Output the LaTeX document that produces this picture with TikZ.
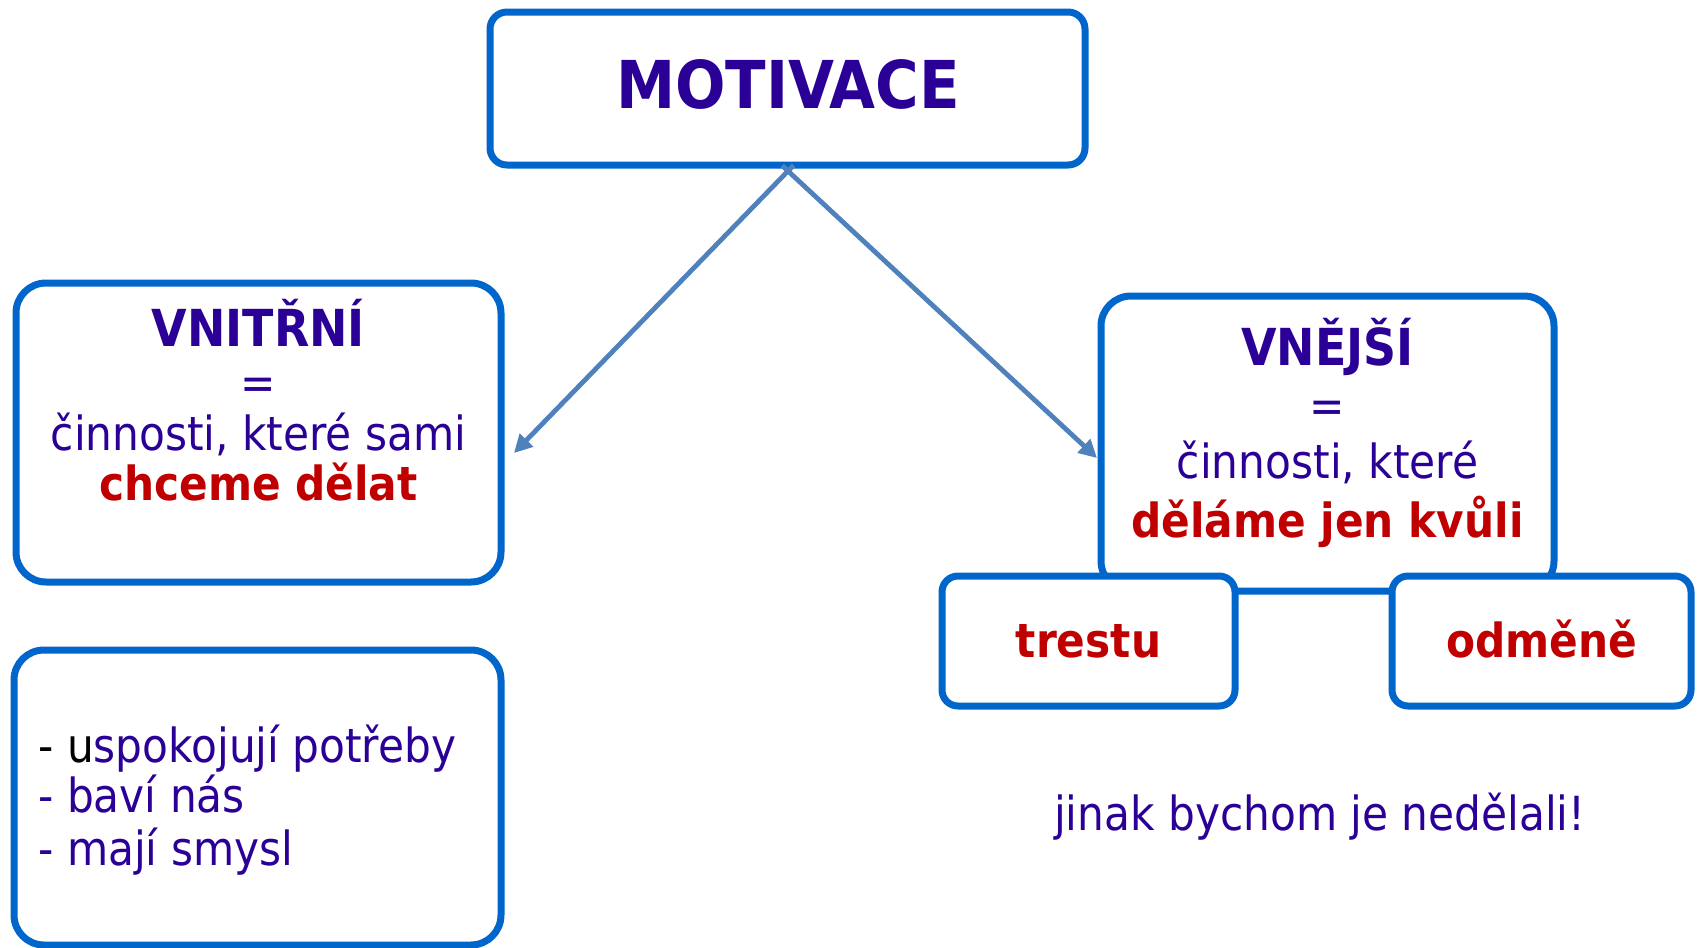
\documentclass[tikz,border=0pt]{standalone}
\usepackage{fontspec}
\setmainfont{DejaVu Sans Condensed}
\usetikzlibrary{arrows.meta,calc}
\definecolor{txtblue}{HTML}{2A0096}
\definecolor{txtred}{HTML}{C00000}
\definecolor{boxblue}{HTML}{0066CC}
\definecolor{arrblue}{HTML}{4F81BD}
\begin{document}
\begin{tikzpicture}[x=0.5pt,y=-0.5pt,
  box/.style n args={2}{draw=boxblue, line width=3.5pt, fill=white, rounded corners=15pt,
    inner sep=0pt, outer sep=0pt, minimum width=#1*0.5pt, minimum height=#2*0.5pt},
  txt/.style={anchor=base, inner sep=0pt, font=\fontsize{23.5}{28}\selectfont, text=txtblue},
  txtbold/.style={txt, font=\fontsize{23.5}{28}\selectfont\bfseries},
  redbold/.style={txtbold, text=txtred},
  heading/.style={txt, font=\fontsize{25.5}{30}\selectfont\bfseries},
  titletxt/.style={txt, font=\fontsize{33}{38}\selectfont\bfseries},
  listtxt/.style={txt, anchor=base west},
  conn/.style={draw=arrblue, line width=2.4pt, -{Triangle[length=9pt,width=9pt]}}]
\fill[white] (0,0) rectangle (1699,948);
\useasboundingbox (0,0) rectangle (1699,948);

% top box
\node[box={595}{153}, rounded corners=8.5pt] (motivace) at (787.5,88.5) {};
\node[titletxt] (motivacetxt) at (788,108) {MOTIVACE};

% left box
\node[box={485}{299}] (vnitrni) at (258.5,432.5) {};
\node[heading] (vnitrnihead) at (258.5,346) {VNITŘNÍ};
\node[txt] (vnitrnieq) at (258.5,399) {=};
\node[txt] (vnitrnil1) at (258.5,450) {činnosti, které sami};
\node[redbold] (vnitrnil2) at (258.5,500) {chceme dělat};

% lower left box
\node[box={487}{295}] (duvody) at (257.5,797.5) {};
\node[listtxt] (duvodyl1) at (38,762) {\textcolor{black}{- u}spokojují potřeby};
\node[listtxt] (duvodyl2) at (38,812) {- baví nás};
\node[listtxt] (duvodyl3) at (38,865) {- mají smysl};

% right box
\node[box={453}{295}] (vnejsi) at (1327.5,443.5) {};
\node[heading] (vnejsihead) at (1327.5,365) {VNĚJŠÍ};
\node[txt] (vnejsieq) at (1327.5,422) {=};
\node[txt] (vnejsil1) at (1327.5,478) {činnosti, které};
\node[redbold] (vnejsil2) at (1327.5,537) {děláme jen kvůli};

% sub boxes
\node[box={293}{130}, rounded corners=8pt] (trestu) at (1088.5,641) {};
\node[redbold] (trestutxt) at (1088.5,657) {trestu};
\node[box={299}{130}, rounded corners=8pt] (odmene) at (1541.5,641) {};
\node[redbold] (odmenetxt) at (1541.5,657) {odměně};

\node[txt] (jinak) at (1320,830) {jinak bychom je nedělali!};

% arrows
\coordinate (apex) at ($(motivace.south)+(0.5,6)$);
\coordinate (lefttip) at ($(vnitrni.east)+(13,20.5)$);
\coordinate (righttip) at ($(vnejsi.west)+(-4,14.5)$);
\draw[conn] ($(apex)!-4pt!(lefttip)$) -- (lefttip);
\draw[conn] ($(apex)!-4pt!(righttip)$) -- (righttip);
\end{tikzpicture}
\end{document}
